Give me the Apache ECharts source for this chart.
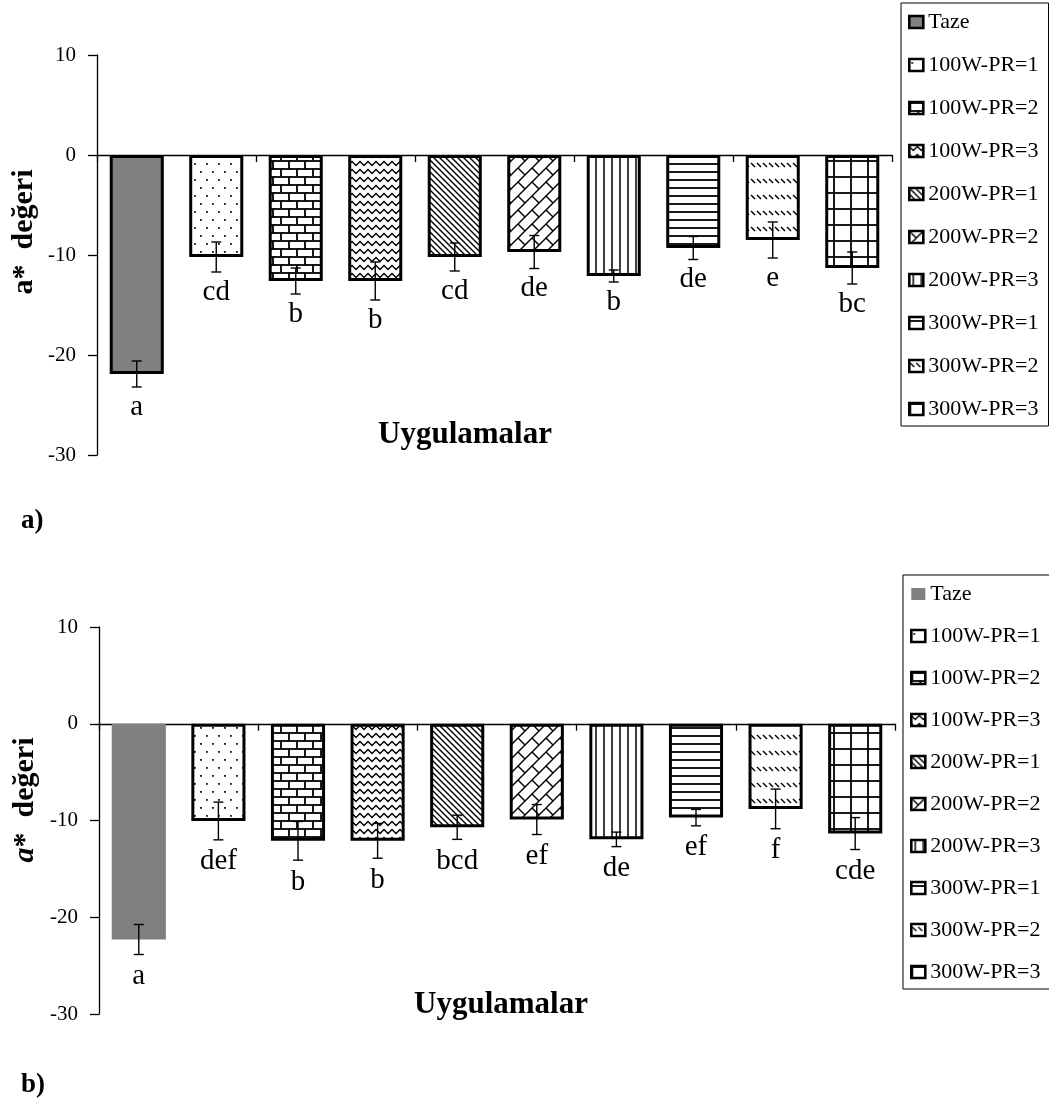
<!DOCTYPE html>
<html><head><meta charset="utf-8">
<script src="https://cdn.jsdelivr.net/npm/echarts@6/dist/echarts.min.js"></script>
<style>
html,body{margin:0;padding:0;background:#fff;overflow:hidden;width:1049px;height:1112px}
#a,#b{position:absolute;left:0;width:1049px;height:556px}
#a{top:0}#b{top:556px}
</style></head>
<body><div id="a"></div><div id="b"></div>
<script>
const categories = ['Taze','100W-PR=1','100W-PR=2','100W-PR=3','200W-PR=1','200W-PR=2','200W-PR=3','300W-PR=1','300W-PR=2','300W-PR=3'];
const valuesA  = [-21.9,-10.2,-12.6,-12.6,-10.2,-9.7,-12.1,-9.3,-8.5,-11.3];
const errorsA  = [1.3,1.5,1.3,1.9,1.4,1.65,0.6,1.15,1.8,1.6];
const lettersA = ['a','cd','b','b','cd','de','b','de','e','bc'];
const valuesB  = [-22.3,-10.05,-12.1,-12.1,-10.7,-9.9,-11.95,-9.7,-8.8,-11.35];
const errorsB  = [1.55,1.95,2.0,1.8,1.25,1.55,0.75,0.85,2.05,1.65];
const lettersB = ['a','def','b','b','bcd','ef','de','ef','f','cde'];
const yMin = -30, yMax = 10, yStep = 10;
const xTitle = 'Uygulamalar';

const FF = "'Liberation Serif','Times New Roman',serif";

function pat(w,h,fn){
  const c=document.createElement('canvas');c.width=w;c.height=h;
  const g=c.getContext('2d');g.fillStyle='#fff';g.fillRect(0,0,w,h);
  g.strokeStyle='#000';g.fillStyle='#000';g.lineWidth=1.4;fn(g);
  return {image:c,repeat:'repeat'};
}
function ln(g,p){g.beginPath();g.moveTo(p[0],p[1]);for(let i=2;i<p.length;i+=2)g.lineTo(p[i],p[i+1]);g.stroke();}
const patterns = [
  '#808080',
  pat(12,16,g=>{g.fillStyle='#111';g.fillRect(2,3,1.8,1.8);g.fillRect(8,11,1.8,1.8);}),
  pat(16,16,g=>{g.lineWidth=1.8;ln(g,[0,1,16,1]);ln(g,[0,9,16,9]);ln(g,[1,1,1,9]);ln(g,[9,9,9,17]);}),
  pat(8,8,g=>{g.lineWidth=1.5;ln(g,[-1,0.5,4,5.5,9,0.5]);}),
  pat(6,6,g=>{ln(g,[-1,-1,7,7]);ln(g,[-1,5,1,7]);ln(g,[5,-1,7,1]);}),
  pat(14,14,g=>{ln(g,[-1,15,15,-1]);ln(g,[-1,1,1,-1]);ln(g,[13,15,15,13]);ln(g,[0,0,7,7]);}),
  pat(8,8,g=>{g.lineWidth=1.5;ln(g,[4,0,4,8]);}),
  pat(8,8,g=>{g.lineWidth=1.8;ln(g,[0,4,8,4]);}),
  pat(6,16,g=>{ln(g,[1,3,5,7]);}),
  pat(17,16,g=>{g.lineWidth=1.8;ln(g,[1,0,1,16]);ln(g,[0,1,17,1]);})
];

function build(cfg){
  const series = categories.map((name,i)=>({
    name, type:'bar', stack:'s', barWidth:'68%', animation:false,
    data: categories.map((_,j)=> j===i ? cfg.values[i] : '-'),
    itemStyle:{color:patterns[i], borderColor:'#000', borderWidth:(i===0 && !cfg.tazeBorder)?0:3},
    emphasis:{disabled:true}
  }));
  series.push({
    type:'custom', name:'err', animation:false, silent:true, z:10,
    data: cfg.values.map((v,i)=>[i,v,cfg.errors[i]]),
    renderItem(params, api){
      const i=api.value(0), v=api.value(1), e=api.value(2);
      const p1=api.coord([i,v+e]), p2=api.coord([i,v-e]);
      const x=p1[0], cw=5, st={stroke:'#000',lineWidth:1.4};
      return {type:'group',children:[
        {type:'line',shape:{x1:x,y1:p1[1],x2:x,y2:p2[1]},style:st},
        {type:'line',shape:{x1:x-cw,y1:p1[1],x2:x+cw,y2:p1[1]},style:st},
        {type:'line',shape:{x1:x-cw,y1:p2[1],x2:x+cw,y2:p2[1]},style:st},
        {type:'text',x:x,y:p2[1]+cfg.labOff,style:{text:cfg.letters[params.dataIndex],fontFamily:FF,fontSize:29,fill:'#000',align:'center',verticalAlign:'middle'}}
      ]};
    }
  });
  return {
    animation:false,
    grid:cfg.grid,
    xAxis:{type:'category',data:categories,
      axisLine:{onZero:true,lineStyle:{color:'#000',width:1.3}},
      axisTick:{show:true,length:7,lineStyle:{color:'#000',width:1.3}},
      axisLabel:{show:false},splitLine:{show:false}},
    yAxis:{type:'value',min:yMin,max:yMax,interval:yStep,
      axisLine:{show:true,onZero:false,lineStyle:{color:'#000',width:1.3}},
      axisTick:{show:true,length:9,lineStyle:{color:'#000',width:1.3}},
      axisLabel:{margin:21,fontFamily:FF,fontSize:21,color:'#000'},
      splitLine:{show:false}},
    legend:{orient:'vertical',left:cfg.legendLeft,top:cfg.legendTop,
      data:categories.map((n,i)=>({name:n,icon:'rect',
        itemStyle:{borderColor:'#000',borderWidth:(i===0 && !cfg.tazeBorder)?0:2.6}})),
      itemWidth:14,itemHeight:12,itemGap:cfg.legendGap,padding:[8,10,6,7],
      borderColor:'#000',borderWidth:1,selectedMode:false,
      textStyle:{fontFamily:FF,fontSize:22,color:'#000',lineHeight:22}},
    graphic:[
      {type:'text',x:cfg.yName[0],y:cfg.yName[1],rotation:Math.PI/2,
        style:{text:cfg.yNameText,rich:{i:{fontStyle:'italic',fontWeight:'bold',fontSize:30,fontFamily:FF}},
          fontFamily:FF,fontWeight:'bold',fontSize:30,fill:'#000',align:'center',verticalAlign:'middle'}},
      {type:'text',x:cfg.xName[0],y:cfg.xName[1],
        style:{text:xTitle,fontFamily:FF,fontWeight:'bold',fontSize:31,fill:'#000',align:'center',verticalAlign:'middle'}},
      {type:'text',x:cfg.panel[0],y:cfg.panel[1],
        style:{text:cfg.panelText,fontFamily:FF,fontWeight:'bold',fontSize:27,fill:'#000',align:'left',verticalAlign:'middle'}}
    ],
    series
  };
}

const chA = echarts.init(document.getElementById('a'),null,{renderer:'canvas'});
chA.setOption(build({
  values:valuesA, errors:errorsA, letters:lettersA, tazeBorder:true, labOff:20,
  grid:{left:97,right:157,top:55,height:400,containLabel:false},
  legendLeft:901, legendTop:3, legendGap:21,
  yName:[24,232], yNameText:'a*  değeri', xName:[465,435], panel:[21,521], panelText:'a)'
}));
const chB = echarts.init(document.getElementById('b'),null,{renderer:'canvas'});
chB.setOption(build({
  values:valuesB, errors:errorsB, letters:lettersB, tazeBorder:false, labOff:22,
  grid:{left:99,right:154,top:71,height:387,containLabel:false},
  legendLeft:903, legendTop:19, legendGap:20,
  yName:[25,244], yNameText:'{i|a}*  değeri', xName:[501,449], panel:[21,529], panelText:'b)'
}));
</script></body></html>
